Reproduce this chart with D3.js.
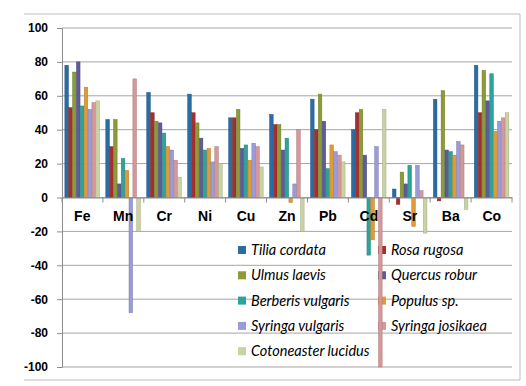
<!DOCTYPE html>
<html>
<head>
<meta charset="utf-8">
<script src="https://cdn.jsdelivr.net/npm/d3@7"></script>
<style>
  body { margin: 0; background: #fff; }
</style>
</head>
<body>
<svg width="526" height="386"></svg>
<script>
    // categories and series
    const elements = ["Fe", "Mn", "Cr", "Ni", "Cu", "Zn", "Pb", "Cd", "Sr", "Ba", "Co"];
    const species = ["Tilia cordata", "Rosa rugosa", "Ulmus laevis", "Quercus robur",
        "Berberis vulgaris", "Populus sp.", "Syringa vulgaris", "Syringa josikaea", "Cotoneaster lucidus"];
    const colors = ["#2b6ca3", "#a3302f", "#8c9a37", "#5d5b9a", "#2da39a", "#e19b36", "#9a9bd9", "#d4989a", "#c9d3a3"];

    // values per species, in element order
    const tilia      = [78, 46, 62, 61, 47, 49, 58, 40, 5, 58, 78];
    const rosa       = [53, 30, 50, 50, 47, 43, 40, 50, -4, -2, 50];
    const ulmus      = [74, 46, 45, 44, 52, 43, 61, 52, 15, 63, 75];
    const quercus    = [80, 8, 44, 35, 29, 28, 45, 25, 8, 28, 57];
    const berberis   = [54, 23, 38, 28, 31, 35, 17, -34, 19, 27, 73];
    const populus    = [65, 16, 30, 29, 22, -3, 31, -25, -17, 25, 39];
    const syrVulg    = [52, -68, 28, 21, 32, 8, 27, 30, 19, 33, 45];
    const syrJos     = [56, 70, 22, 30, 30, 40, 25, -100, 4, 31, 47];
    const cotoneaster = [57, -20, 12, 20, 18, -20, 21, 52, -21, -7, 50];
    const series = [tilia, rosa, ulmus, quercus, berberis, populus, syrVulg, syrJos, cotoneaster];

    const yTicks = [-100, -80, -60, -40, -20, 0, 20, 40, 60, 80, 100];

    const svg = d3.select("svg");
    const mLeft = 62, mRight = 512, mTop = 28, mBottom = 367;

    // chart border
    svg.append("path")
        .attr("d", "M24,14 L520,14 L520,380 L24,380")
        .attr("fill", "none")
        .attr("stroke", "#bdbdbd")
        .attr("stroke-width", 1);

    const x = d3.scaleBand().domain(elements).range([mLeft, mRight]).paddingInner(0.15).paddingOuter(0.07);
    const xs = d3.scaleBand().domain(species).range([0, x.bandwidth()]);
    const y = d3.scaleLinear().domain([-100, 100]).range([mBottom, mTop]);

    // gridlines
    svg.append("g").selectAll("line")
        .data(yTicks)
        .enter().append("line")
        .attr("x1", mLeft).attr("x2", mRight)
        .attr("y1", d => y(d)).attr("y2", d => y(d))
        .attr("stroke", "#a6a6a6")
        .attr("stroke-width", 1);

    // y axis
    const yAxis = svg.append("g")
        .attr("transform", `translate(${mLeft},0)`)
        .call(d3.axisLeft(y).tickValues(yTicks).tickFormat(d => String(d)).tickSize(5).tickPadding(9));
    yAxis.select(".domain").attr("stroke", "#8c8c8c");
    yAxis.selectAll(".tick line").attr("stroke", "#8c8c8c");
    yAxis.selectAll("text")
        .attr("font-family", "Liberation Sans, Arial, sans-serif")
        .attr("font-size", "12px")
        .attr("font-weight", "bold")
        .attr("fill", "#000");

    // legend (drawn before bars, bars overlap it)
    const legend = svg.append("g");
    species.forEach((s, i) => {
        const col = i % 2, row = Math.floor(i / 2);
        const lx = col === 0 ? 238 : 378;
        const ly = 250 + row * 25.3;
        legend.append("rect")
            .attr("x", lx).attr("y", ly - 4)
            .attr("width", 8).attr("height", 8)
            .attr("fill", colors[i]);
        legend.append("text")
            .attr("x", lx + 13).attr("y", ly + 5)
            .text(s)
            .attr("font-family", "Lato, 'Open Sans', sans-serif")
            .attr("font-style", "italic")
            .attr("font-size", "14.5px")
            .attr("fill", "#000");
    });

    // bars
    series.forEach((vals, si) => {
        svg.append("g").selectAll("rect")
            .data(vals)
            .enter().append("rect")
            .attr("x", (d, i) => x(elements[i]) + xs(species[si]))
            .attr("width", xs.bandwidth() - 0.3)
            .attr("y", d => y(Math.max(0, d)))
            .attr("height", d => Math.abs(y(d) - y(0)))
            .attr("fill", colors[si])
            .attr("stroke", d3.color(colors[si]).darker(0.6))
            .attr("stroke-width", 0.5);
    });

    // category axis at zero
    const xAxis = svg.append("g")
        .attr("transform", `translate(0,${y(0)})`)
        .call(d3.axisBottom(x).tickSize(0).tickPadding(14));
    xAxis.select(".domain").attr("stroke", "#8c8c8c");
    xAxis.selectAll("text")
        .attr("font-family", "Liberation Sans, Arial, sans-serif")
        .attr("font-size", "14px")
        .attr("font-weight", "bold")
        .attr("fill", "#000");

    // tick marks between categories
    const divs = d3.range(elements.length + 1).map(i => mLeft + (mRight - mLeft) * i / elements.length);
    svg.append("g").selectAll("line")
        .data(divs)
        .enter().append("line")
        .attr("x1", d => d).attr("x2", d => d)
        .attr("y1", y(0)).attr("y2", y(0) + 5)
        .attr("stroke", "#8c8c8c");
</script>
</body>
</html>
